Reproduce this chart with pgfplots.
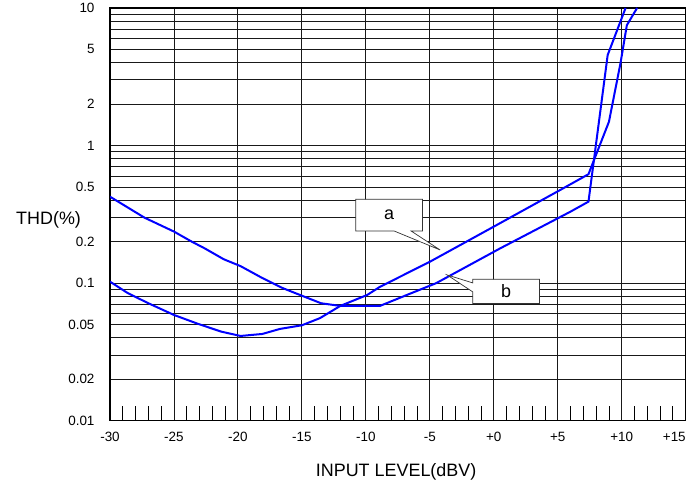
\documentclass[border=0pt]{standalone}
\usepackage{pgfplots}
\pgfplotsset{compat=1.18}
\usepackage{fontspec}
\setmainfont{Liberation Sans}
\begin{document}
\begin{tikzpicture}[x=1bp,y=1bp]
\useasboundingbox (0,0) rectangle (699,485);
\begin{axis}[
  at={(110bp,64.3bp)}, anchor=south west,
  scale only axis, width=575.7bp, height=412.7bp,
  xmin=-30, xmax=15, ymode=log, ymin=0.01, ymax=10,
  /pgf/number format/assume math mode=true,
  xtick={-30,-25,...,15},
  xticklabels={-30,-25,-20,-15,-10,-5,+0,+5,+10,\makebox[0pt][r]{+15}},
  minor x tick num=4,
  xtick pos=lower,
  tick align=inside,
  major tick length=0pt,
  minor tick length=15bp,
  xmajorgrids,
  ytick={0.01,0.02,0.05,0.1,0.2,0.5,1,2,5,10},
  yticklabels={0.01,0.02,0.05,0.1,0.2,0.5,1,2,5,10},
  minor ytick={0.03,0.04,0.06,0.07,0.08,0.09,0.3,0.4,0.6,0.7,0.8,0.9,3,4,6,7,8,9},
  ymajorgrids, yminorgrids,
  ytick style={draw=none},
  major grid style={black!90, line width=0.9bp},
  minor grid style={black!90, line width=0.9bp},
  xtick style={black, line width=0.9bp},
  axis line style={black, line width=1.5bp},
  tick label style={font=\fontsize{13.5}{15}\selectfont},
  yticklabel style={xshift=-12bp},
  xticklabel style={yshift=-8bp},
  clip mode=individual,
]
\addplot[blue, line width=2bp] coordinates {
(-30,0.1025) (-28.6,0.0845) (-27,0.0714) (-25,0.0587) (-23.1,0.0505) (-21.3,0.0444)
(-19.8,0.0413) (-18.1,0.0427) (-16.7,0.0465) (-15,0.0494) (-13.6,0.0556) (-12,0.0683)
(-9.9,0.082) (-8.9,0.094) (-5,0.143) (0,0.2575) (5.2,0.476) (7.4,0.619)
(9,1.49) (9.9,3.96) (10.4,7.5) (11.2,10)
};
\addplot[blue, line width=2bp] coordinates {
(-30,0.425) (-27.3,0.299) (-25,0.237) (-23.6,0.200) (-22.6,0.179) (-21.1,0.149)
(-19.8,0.133) (-18.1,0.109) (-16.5,0.092) (-15,0.081) (-13.5,0.0714) (-12,0.0683)
(-8.9,0.0683) (-6.8,0.082) (-4.5,0.100) (0.5,0.179) (6.0,0.331) (7.4,0.391)
(8.9,4.55) (10.3,10)
};
\draw[fill=white, draw=black!80, line width=0.7bp]
  (axis cs:-10.79,0.407) -- (axis cs:-5.58,0.407) -- (axis cs:-5.58,0.2395)
  -- (axis cs:-6.47,0.2395) -- (axis cs:-4.2,0.1743) -- (axis cs:-7.80,0.2395)
  -- (axis cs:-10.79,0.2395) -- cycle;
\node[font=\fontsize{18}{20}\selectfont] at (axis cs:-8.19,0.3122) {a};
\draw[fill=white, draw=black!80, line width=0.7bp]
  (axis cs:-1.64,0.1067) -- (axis cs:3.57,0.1067) -- (axis cs:3.57,0.0710)
  -- (axis cs:-1.64,0.0710) -- (axis cs:-1.64,0.0863) -- (axis cs:-3.65,0.1147)
  -- (axis cs:-1.64,0.1003) -- cycle;
\node[font=\fontsize{18}{20}\selectfont] at (axis cs:0.96,0.087) {b};
\node[font=\fontsize{18}{20}\selectfont, anchor=west] at (axis description cs:-0.169,0.4863) {THD(\%)};
\node[font=\fontsize{18}{20}\selectfont] at (axis description cs:0.497,-0.1236) {INPUT LEVEL(dBV)};
\end{axis}
\end{tikzpicture}
\end{document}
